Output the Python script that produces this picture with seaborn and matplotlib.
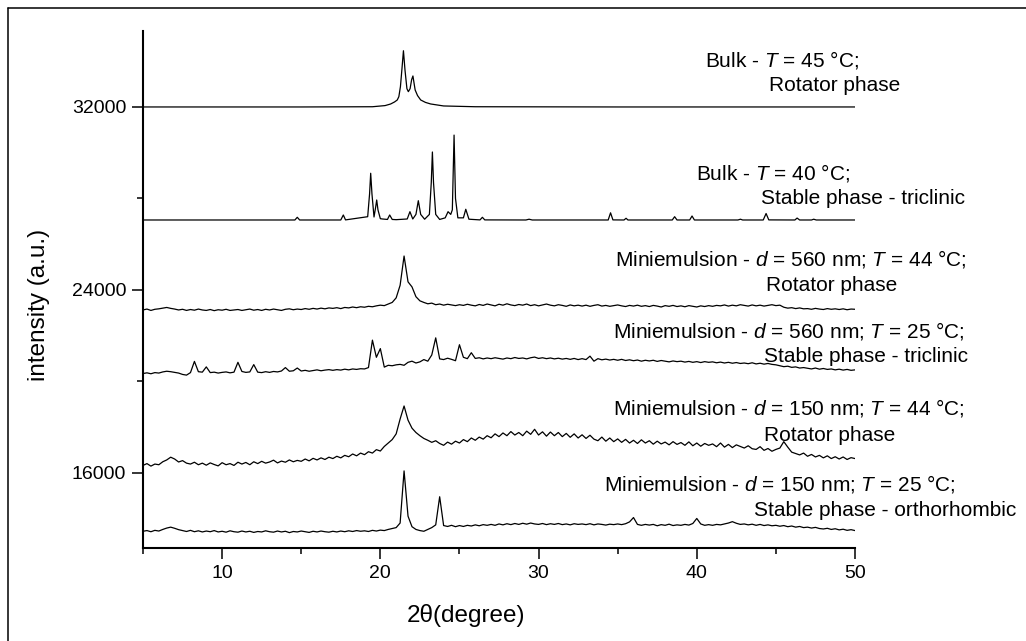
import numpy as np
import matplotlib
matplotlib.use("Agg")
import matplotlib.pyplot as plt
from matplotlib.lines import Line2D
from matplotlib.ticker import MultipleLocator
import seaborn as sns

# ---- data ----
# bulk patterns: explicit 2theta / intensity pairs
bulk45_x = [5, 15, 19.5, 20.3, 20.65, 20.9, 21.07, 21.17, 21.27, 21.37, 21.46, 21.56, 21.68,
            21.77, 21.88, 21.98, 22.06, 22.14, 22.2, 22.35, 22.55, 22.85, 23.18, 24.0, 26, 35, 50]
bulk45_y = [32000, 32000, 32010, 32060, 32130, 32220, 32306, 32450, 32890, 33700, 34460, 33600, 32800,
            32670, 32800, 33200, 33356, 33000, 32744, 32500, 32306, 32200, 32131, 32044, 32010, 32000, 32000]

bulk40_x = [5, 14.6, 14.75, 14.9, 17.5, 17.66, 17.8, 19.2, 19.32, 19.39, 19.47, 19.6, 19.7, 19.77,
            19.85, 20.0, 20.13, 20.45, 20.59, 20.75, 21.0, 21.7, 21.87, 22.05, 22.25, 22.4, 22.55,
            22.8, 23.1, 23.22, 23.29, 23.36, 23.5, 23.75, 24.1, 24.28, 24.45, 24.55, 24.66, 24.75,
            24.9, 25.25, 25.4, 25.6, 26.3, 26.45, 26.6, 29.2, 29.4, 29.6, 34.4, 34.55, 34.7, 35.4,
            35.53, 35.65, 38.45, 38.6, 38.75, 39.55, 39.7, 39.85, 42.6, 42.76, 42.9, 44.2, 44.38,
            44.55, 46.2, 46.34, 46.5, 47.25, 47.39, 47.55, 50]
bulk40_y = [27056, 27056, 27174, 27056, 27056, 27275, 27060, 27200, 28200, 29100, 28200, 27187, 27600, 27931,
            27500, 27113, 27100, 27080, 27275, 27080, 27070, 27100, 27419, 27100, 27300, 27900, 27300,
            27090, 27300, 28700, 30030, 28700, 27300, 27080, 27150, 27419, 27300, 27500, 30770, 28000,
            27150, 27150, 27525, 27090, 27060, 27174, 27060, 27056, 27090, 27056, 27056, 27370, 27060, 27056,
            27131, 27056, 27056, 27200, 27056, 27056, 27230, 27056, 27056, 27090, 27056, 27056, 27340,
            27060, 27056, 27140, 27056, 27056, 27090, 27056, 27056]

# miniemulsion patterns: sampled every 0.25 deg from 5 to 50
two_theta = np.linspace(5, 50, 181)

mini560_44 = [
    23120, 23160, 23100, 23150, 23170, 23200, 23230, 23190,
    23160, 23120, 23150, 23100, 23140, 23110, 23160, 23120,
    23100, 23140, 23090, 23130, 23110, 23150, 23100, 23120,
    23140, 23100, 23130, 23160, 23110, 23140, 23100, 23150,
    23120, 23160, 23130, 23100, 23150, 23170, 23130, 23160,
    23140, 23180, 23150, 23190, 23160, 23200, 23170, 23210,
    23190, 23220, 23180, 23230, 23210, 23250, 23220, 23260,
    23240, 23280, 23260, 23300, 23330, 23310, 23380, 23450,
    23650, 24200, 25480, 24350, 24130, 23700, 23520, 23450,
    23390, 23420, 23350, 23380, 23330, 23370, 23340, 23310,
    23350, 23320, 23370, 23330, 23300, 23360, 23320, 23380,
    23340, 23300, 23370, 23330, 23390, 23340, 23310, 23360,
    23330, 23380, 23310, 23350, 23300, 23340, 23380, 23330,
    23300, 23350, 23320, 23280, 23340, 23300, 23330, 23290,
    23330, 23280, 23320, 23350, 23290, 23320, 23280, 23310,
    23340, 23300, 23270, 23320, 23290, 23330, 23280, 23310,
    23270, 23320, 23290, 23250, 23310, 23280, 23320, 23270,
    23300, 23260, 23310, 23280, 23250, 23300, 23270, 23310,
    23280, 23320, 23300, 23340, 23290, 23330, 23300, 23350,
    23320, 23290, 23340, 23300, 23330, 23290, 23320, 23350,
    23310, 23330, 23240, 23200, 23220, 23180, 23210, 23170,
    23180, 23150, 23190, 23160, 23140, 23180, 23150, 23170,
    23140, 23170, 23130, 23160, 23150]

mini560_25 = [
    20340, 20370, 20330, 20380, 20360, 20410, 20440, 20420,
    20390, 20360, 20300, 20270, 20380, 20870, 20420, 20400,
    20630, 20380, 20400, 20360, 20390, 20410, 20370, 20400,
    20830, 20430, 20390, 20410, 20730, 20400, 20380, 20420,
    20390, 20430, 20410, 20450, 20600, 20440, 20460, 20580,
    20450, 20480, 20440, 20470, 20500, 20460, 20490, 20510,
    20480, 20510, 20490, 20530, 20500, 20540, 20520, 20550,
    20540, 20600, 21800, 21050, 21430, 20620, 20700, 20680,
    20720, 20740, 20700, 20830, 20880, 20800, 20850, 20950,
    20880, 21150, 21900, 20980, 20950, 21010, 20960, 20900,
    21600, 21050, 20990, 21250, 21000, 21030, 20980, 21020,
    20990, 21030, 21000, 20970, 21020, 20990, 21040, 21000,
    21020, 20980, 21030, 21060, 21000, 21030, 20990, 21020,
    20980, 21010, 20970, 21000, 20960, 21000, 20950, 20990,
    20950, 21100, 20880, 20990, 20940, 20970, 20930, 20960,
    20920, 20960, 20910, 20940, 20900, 20930, 20880, 20920,
    20890, 20920, 20870, 20910, 20880, 20850, 20890, 20860,
    20880, 20840, 20870, 20830, 20860, 20820, 20860, 20830,
    20850, 20810, 20840, 20800, 20830, 20790, 20820, 20780,
    20800, 20770, 20810, 20760, 20790, 20750, 20780, 20740,
    20720, 20680, 20640, 20660, 20610, 20630, 20580, 20600,
    20570, 20540, 20580, 20530, 20560, 20520, 20540, 20500,
    20530, 20490, 20520, 20480, 20500]

mini150_44 = [
    16320, 16400, 16290, 16380, 16350, 16480, 16560, 16680,
    16600, 16470, 16530, 16420, 16380, 16460, 16350, 16420,
    16330, 16430, 16360, 16300, 16440, 16350, 16400, 16320,
    16460, 16380, 16450, 16350, 16480, 16400, 16500, 16420,
    16470, 16550, 16430, 16510, 16460, 16560, 16480, 16540,
    16500, 16600, 16520, 16630, 16560, 16650, 16580, 16680,
    16620, 16720, 16650, 16760, 16700, 16820, 16740, 16860,
    16790, 16920, 16860, 17010, 16950, 17150, 17300, 17450,
    17700, 18350, 18920, 18300, 17950, 17760, 17620, 17500,
    17420, 17330, 17400, 17280, 17200, 17340, 17250, 17380,
    17300, 17450, 17360, 17520, 17420, 17560, 17470, 17620,
    17530, 17700, 17580, 17740, 17620, 17800, 17650, 17760,
    17620, 17820, 17680, 17900, 17650, 17790, 17600, 17780,
    17620, 17760, 17580, 17720, 17550, 17700, 17520, 17660,
    17500, 17640, 17470, 17400, 17560, 17380, 17520, 17360,
    17480, 17330, 17460, 17300, 17420, 17280, 17440, 17300,
    17400, 17250, 17380, 17260, 17340, 17220, 17360, 17240,
    17320, 17200, 17350, 17180, 17300, 17160, 17280, 17200,
    17260, 17140, 17300, 17120, 17240, 17100, 17220, 17150,
    17080, 17180, 17050, 17020, 17140, 16980, 17060, 16940,
    17020, 17080, 17360, 17120, 16900, 16840, 16780, 16860,
    16720, 16800, 16690, 16760, 16650, 16740, 16620, 16700,
    16600, 16690, 16580, 16660, 16620]

mini150_25 = [
    13440, 13470, 13420, 13480, 13450, 13520, 13580, 13620,
    13570, 13510, 13470, 13430, 13480, 13420, 13460, 13410,
    13450, 13420, 13470, 13410, 13440, 13400, 13460, 13420,
    13400, 13450, 13410, 13440, 13390, 13430, 13410, 13460,
    13420, 13400, 13450, 13410, 13440, 13380, 13430, 13410,
    13450, 13420, 13390, 13440, 13410, 13450, 13420, 13400,
    13440, 13410, 13450, 13420, 13460, 13430, 13470, 13440,
    13460, 13430, 13480, 13450, 13490, 13470, 13520, 13560,
    13600, 13800, 16080, 14100, 13640, 13520, 13470, 13440,
    13520, 13600, 13720, 14950, 13690, 13650, 13700, 13640,
    13690, 13650, 13700, 13670, 13720, 13680, 13730, 13700,
    13740, 13700, 13760, 13720, 13770, 13730, 13780, 13740,
    13790, 13750, 13800, 13760, 13740, 13780, 13730, 13770,
    13740, 13780, 13730, 13760, 13720, 13770, 13740, 13760,
    13730, 13770, 13720, 13760, 13740, 13710, 13750, 13730,
    13760, 13730, 13770, 13850, 14040, 13740, 13700, 13740,
    13710, 13740, 13680, 13730, 13700, 13750, 13690, 13720,
    13700, 13740, 13710, 13780, 14000, 13760, 13700, 13730,
    13700, 13740, 13720, 13760, 13800, 13860, 13790, 13740,
    13760, 13720, 13750, 13700, 13740, 13690, 13720, 13680,
    13700, 13660, 13690, 13640, 13670, 13620, 13650, 13600,
    13620, 13580, 13610, 13560, 13540, 13570, 13520, 13550,
    13500, 13530, 13480, 13510, 13470]

sample_labels = ["Bulk - $T$ = 45 °C;", "Bulk - $T$ = 40 °C;",
                 "Miniemulsion - $d$ = 560 nm; $T$ = 44 °C;",
                 "Miniemulsion - $d$ = 560 nm; $T$ = 25 °C;",
                 "Miniemulsion - $d$ = 150 nm; $T$ = 44 °C;",
                 "Miniemulsion - $d$ = 150 nm; $T$ = 25 °C;"]
phase_labels = ["Rotator phase", "Stable phase - triclinic", "Rotator phase",
                "Stable phase - triclinic", "Rotator phase", "Stable phase - orthorhombic"]

# label placement (data coords, centre of each text line)
sample_pos = [(45.41, 34056), (44.81, 29099), (45.95, 25349), (45.82, 22199), (45.82, 18818), (45.25, 15493)]
phase_pos = [(48.73, 32918), (50.50, 28005), (48.51, 24212), (50.69, 21075), (48.41, 17649), (51.89, 14368)]

# ---- plot ----
sns.set_style("ticks")
plt.rcParams["font.family"] = ["Liberation Sans", "DejaVu Sans"]
plt.rcParams["mathtext.fontset"] = "custom"
plt.rcParams["mathtext.rm"] = "Liberation Sans"
plt.rcParams["mathtext.it"] = "Liberation Sans:italic"
for key in ["text.color", "axes.labelcolor", "xtick.color", "ytick.color", "axes.edgecolor"]:
    plt.rcParams[key] = "black"

fig = plt.figure(figsize=(10.26, 6.41), dpi=100)
ax = fig.add_axes([0.13938, 0.14509, 0.69396, 0.80655])

line_kw = dict(ax=ax, color="black", linewidth=0.9, estimator=None, sort=False, legend=False)
sns.lineplot(x=bulk45_x, y=bulk45_y, **line_kw)
sns.lineplot(x=bulk40_x, y=bulk40_y, **line_kw)
for trace in [mini560_44, mini560_25, mini150_44, mini150_25]:
    sns.lineplot(x=two_theta, y=trace, **line_kw)

for txt, (px, py) in zip(sample_labels, sample_pos):
    ax.text(px, py, txt, fontsize=15, ha="center", va="center", clip_on=False)
for txt, (px, py) in zip(phase_labels, phase_pos):
    ax.text(px, py, txt, fontsize=15, ha="center", va="center", clip_on=False)

ax.set_xlim(5, 50)
ax.set_ylim(12708, 35323)
ax.xaxis.set_major_locator(MultipleLocator(10))
ax.xaxis.set_minor_locator(MultipleLocator(5))
ax.yaxis.set_major_locator(MultipleLocator(8000))
ax.yaxis.set_minor_locator(MultipleLocator(4000))
ax.tick_params(which="major", length=8, width=1.1, labelsize=14, direction="out", pad=4)
ax.tick_params(which="minor", length=4.3, width=1.1, direction="out")

sns.despine(ax=ax)
for s in ["left", "bottom"]:
    ax.spines[s].set_linewidth(1.5)

ax.set_xlabel("2θ(degree)", fontsize=17.5)
ax.set_ylabel("intensity (a.u.)", fontsize=17.5)
ax.xaxis.set_label_coords(0.454, -0.108)
ax.yaxis.set_label_coords(-0.131, 0.47)

# partial outer frame (left and top edges)
fig.add_artist(Line2D([8 / 1026, 8 / 1026], [0, 1 - 8 / 641], transform=fig.transFigure, color="black", lw=1.1))
fig.add_artist(Line2D([8 / 1026, 1], [1 - 8 / 641, 1 - 8 / 641], transform=fig.transFigure, color="black", lw=1.1))

fig.savefig("out.png", dpi=100)
plt.close(fig)
